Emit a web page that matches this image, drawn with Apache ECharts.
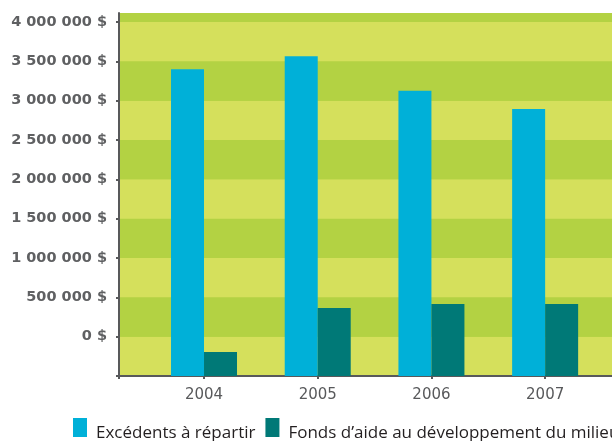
<!DOCTYPE html>
<html>
<head>
<meta charset="utf-8">
<script src="https://cdn.jsdelivr.net/npm/echarts@6/dist/echarts.min.js"></script>
<style>html,body{margin:0;padding:0;background:#fff}#c{width:612px;height:441px}</style>
</head>
<body>
<div id="c"></div>
<script>
// Data (bar heights measured from the bottom of the plot)
const years = [2004, 2005, 2006, 2007];
const excedents = [3900000, 4065000, 3625000, 3395000];
const fonds = [305000, 865000, 915000, 915000];
const seriesNames = ['Excédents à répartir', 'Fonds d\u2019aide au développement du milieu'];
// Tick positions and their printed labels (as drawn in the reference)
const yTickValues = [0, 500000, 1000000, 1500000, 2000000, 2500000, 3000000, 3500000, 4000000, 4500000];
const yTickLabels = ['', '0 $', '500 000 $', '1 000 000 $', '1 500 000 $', '2 000 000 $', '2 500 000 $', '3 000 000 $', '3 500 000 $', '4 000 000 $'];
const xTickLabels = ['2004', '2005', '2006', '2007'];

const xMin = 2003.2524, xMax = 2007.588;
const chart = echarts.init(document.getElementById('c'), null, {renderer: 'canvas'});
chart.setOption({
  animation: false,
  backgroundColor: '#ffffff',
  grid: {left: 119, right: 0, top: 13, bottom: 65, containLabel: false, show: true, backgroundColor: '#b3d243', borderWidth: 0},
  xAxis: {
    type: 'value', min: xMin, max: xMax,
    axisLine: {show: true, onZero: false, lineStyle: {color: '#58595b', width: 2}},
    axisTick: {show: true, length: 3, lineStyle: {color: '#58595b', width: 2}, customValues: [xMin].concat(years)},
    axisLabel: {show: true, customValues: years, margin: 12, color: '#58595b', fontFamily: 'DejaVu Sans', fontSize: 15,
      formatter: v => xTickLabels[years.indexOf(Math.round(v))]},
    splitLine: {show: false}
  },
  yAxis: {
    type: 'value', min: 0, max: 4614000, interval: 500000,
    axisLine: {show: true, lineStyle: {color: '#58595b', width: 2}},
    axisTick: {show: true, length: 3, lineStyle: {color: '#58595b', width: 2}, customValues: yTickValues},
    axisLabel: {show: true, customValues: yTickValues.slice(1), margin: 12, color: '#5f6062', fontFamily: 'DejaVu Sans', fontWeight: 'bold', fontSize: 14.5,
      formatter: v => yTickLabels[yTickValues.indexOf(v)]},
    splitLine: {show: false},
    splitArea: {show: true, areaStyle: {color: ['#d5e05c', '#b3d243']}}
  },
  legend: {
    left: 73, top: 418, width: 1200, padding: 0, itemWidth: 14, itemHeight: 19, itemGap: 10, icon: 'rect',
    formatter: name => '{t|' + name + '}',
    textStyle: {
      fontFamily: 'Open Sans', fontSize: 17, color: '#231f20',
      rich: {t: {fontFamily: 'Open Sans', fontSize: 17, color: '#231f20', padding: [12, 0, 0, 4]}}
    },
    data: seriesNames
  },
  series: [
    {name: seriesNames[0], type: 'bar', barWidth: 33, barGap: '0%', itemStyle: {color: '#00b0d8'},
     data: years.map((y, i) => [y, excedents[i]])},
    {name: seriesNames[1], type: 'bar', barWidth: 33, barGap: '0%', itemStyle: {color: '#007977'},
     data: years.map((y, i) => [y, fonds[i]])}
  ]
});
</script>
</body>
</html>
